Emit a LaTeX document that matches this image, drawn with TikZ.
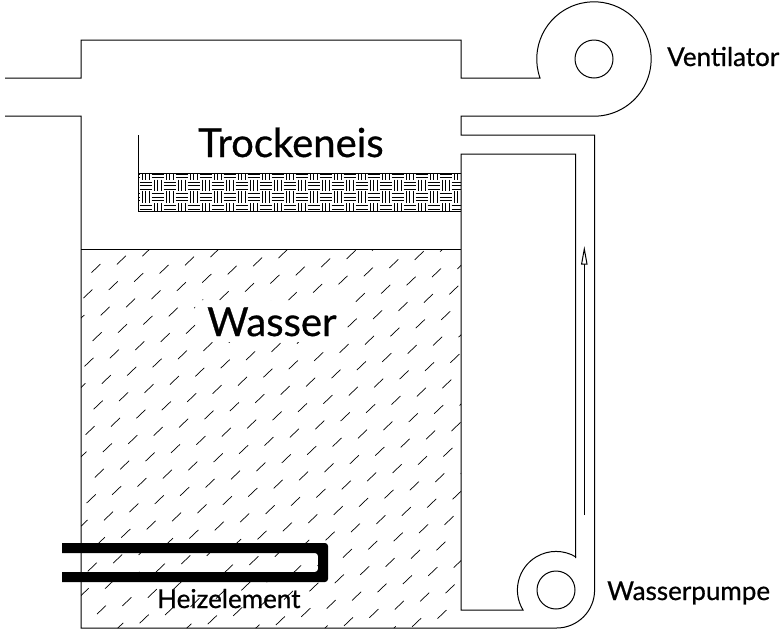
\documentclass[tikz,border=0pt]{standalone}
\usepackage{fontspec}
\setmainfont[FakeBold=0.7]{Lato}
\newfontfamily\gillish[FakeBold=0.7]{Lato}
\tikzset{
  wall/.style={draw=black,line width=1pt,line join=miter},
  hatchline/.style={draw=black,line width=0.7pt},
  weaveline/.style={draw=black,line width=0.85pt},
  heater/.style={fill=black,draw=none},
  lbl/.style={inner sep=0pt,text=black},
  flow/.style={draw=black,line width=1pt}
}
\begin{document}
\begin{tikzpicture}[x=1pt,y=-1pt]
\useasboundingbox (0,0) rectangle (783,638);
% water hatch, with the island kept free round the word Wasser
\begin{scope}[even odd rule]
\clip (81,249) rectangle (461,628) (195,300) rectangle (347,342);
\foreach \i in {-30,...,30}{\foreach \j in {-5,...,30}{
  \pgfmathsetmacro{\cx}{96+25.4*\i+17.3*\j}
  \pgfmathsetmacro{\cy}{268.3-8.2*\i+17.3*\j}
  \draw[hatchline] (\cx-4.5,\cy+4.3) -- (\cx+4.5,\cy-4.3);
}}
\end{scope}
% dry ice
\begin{scope}
\clip (138,173) rectangle (461,211);
\foreach \i in {-1,...,27}{\foreach \j in {-1,0,1,2}{
  \pgfmathsetmacro{\cx}{139.7+12*\i}
  \pgfmathsetmacro{\cy}{179.7+11.7*\j}
  \pgfmathtruncatemacro{\parity}{mod(\i+\j+100,2)}
  \foreach \k in {2.5,6,9.5}{
   \ifnum\parity=0
     \draw[weaveline] (\cx,\cy+\k) -- (\cx+12,\cy+\k);
   \else
     \draw[weaveline] (\cx+\k,\cy) -- (\cx+\k,\cy+11.7);
   \fi
  }
}}
\end{scope}
\draw[wall] (138,135) -- (138,211) -- (461,211);
\draw[wall] (138,173) -- (461,173);
\draw[wall] (81,249) -- (461,249);
% duct
\coordinate (fanc) at (594,59);
\coordinate (pumpc) at (556,590);
\draw[wall] (5,78) -- (81,78) -- (81,40) -- (461,40) -- (461,78) -- (540,78)
  arc[start angle=160.6,end angle=450,radius=57.2] -- (461,116.2) -- (461,135) -- (594.6,135) -- (594.6,590)
  arc[start angle=0,end angle=90,radius=38] -- (81,628) -- (81,116) -- (5,116);
\draw[wall] (575.6,558) -- (575.6,154) -- (461,154) -- (461,610) -- (523,610)
  arc[start angle=148.8,end angle=301.5,radius=38.6];
\node[draw=black,line width=1pt,circle,minimum size=38pt,inner sep=0pt] (fanhub) at (fanc) {};
\node[draw=black,line width=1pt,circle,minimum size=38pt,inner sep=0pt] (pumphub) at (pumpc) {};
% arrow
\coordinate (arrowfoot) at (584.3,515);
\coordinate (arrowbase) at (584.3,264);
\coordinate (arrowtip) at (584.3,249);
\draw[flow] (arrowfoot) -- (arrowbase);
\draw[flow,fill=white] (581.6,264) -- (arrowtip) -- (587,264) -- cycle;
% heater
\fill[heater] (62,543) [rounded corners=3pt] -- (328,543) -- (328,582) [sharp corners] -- (62,582) -- (62,572) [rounded corners=3pt] -- (318,572) -- (318,553) [sharp corners] -- (62,553) -- cycle;
% labels
\node[lbl,anchor=base west,font=\gillish\fontsize{40}{40}\selectfont] (tr) at (198,157) {Trockeneis};
\node[lbl,anchor=base west,font=\gillish\fontsize{40}{40}\selectfont] (wa) at (207,336) {Wasser};
\node[lbl,anchor=base west,font=\gillish\fontsize{26}{26}\selectfont] (he) at (157,608) {Heizelement};
\node[lbl,anchor=base west,font=\gillish\fontsize{26}{26}\selectfont] (ve) at (667,66) {Ventilator};
\node[lbl,anchor=base west,font=\gillish\fontsize{26}{26}\selectfont] (wp) at (607,600) {Wasserpumpe};
\end{tikzpicture}
\end{document}
